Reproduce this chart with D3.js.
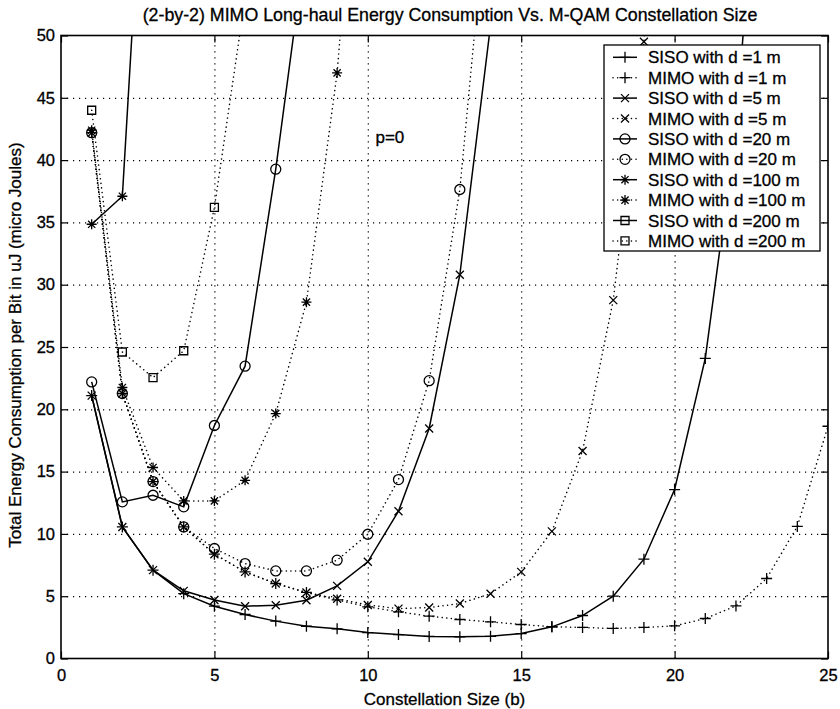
<!DOCTYPE html>
<html>
<head>
<meta charset="utf-8">
<script src="https://cdn.jsdelivr.net/npm/d3@7"></script>
<style>
  html, body { margin: 0; padding: 0; background: #fff; }
  svg text { font-family: "Liberation Sans", Arial, Helvetica, sans-serif; fill: #000; stroke: #000; stroke-width: 0.3px; }
</style>
</head>
<body>
<svg id="chart" width="840" height="709"></svg>
<script>
// ---- text ----
const titleText = "(2-by-2) MIMO Long-haul Energy Consumption Vs. M-QAM Constellation Size";
const xLabelText = "Constellation Size (b)";
const yLabelText = "Total Energy Consumption per Bit in uJ (micro Joules)";
const noteText = "p=0";
const notePos = [10.25, 41.4];          // [b, energy] where the note sits

// ---- axes ----
const xDomain = [0, 25];
const yDomain = [0, 50];
const xTicks = [0, 5, 10, 15, 20, 25];
const yTicks = [0, 5, 10, 15, 20, 25, 30, 35, 40, 45, 50];

// ---- energy per bit (uJ), value i belongs to constellation size b = i + 1 ----
const sisoD1   = [21.1, 10.56, 7.09, 5.2, 4.2, 3.53, 3.0, 2.59, 2.38, 2.08, 1.92, 1.77, 1.74, 1.78, 2.0, 2.54, 3.45, 5.0, 7.97, 13.56, 24.08, 42.5, 75];
const mimoD1   = [42.2, 21.27, 14.2, 10.56, 8.37, 6.95, 6.02, 5.3, 4.7, 4.15, 3.75, 3.4, 3.13, 2.94, 2.73, 2.55, 2.49, 2.41, 2.49, 2.62, 3.21, 4.22, 6.42, 10.6, 18.64];
const sisoD5   = [21.1, 10.56, 7.09, 5.43, 4.7, 4.2, 4.28, 4.68, 5.83, 7.76, 11.82, 18.46, 30.8, 50.8];
const mimoD5   = [42.2, 21.27, 14.2, 10.56, 8.37, 6.95, 6.02, 5.3, 4.8, 4.3, 4.0, 4.09, 4.41, 5.2, 6.95, 10.2, 16.66, 28.76, 49.5, 85];
const sisoD20  = [22.2, 12.57, 13.1, 12.17, 18.7, 23.46, 39.27, 57.8];
const mimoD20  = [42.2, 21.27, 14.2, 10.56, 8.83, 7.62, 7.03, 7.03, 7.89, 9.97, 14.36, 22.3, 37.64, 63.8];
const sisoD100 = [34.85, 37.1, 78.7];
const mimoD100 = [42.4, 21.75, 15.33, 12.65, 12.65, 14.3, 19.66, 28.6, 47.0, 77];
const sisoD200 = [95, 110, 160];
const mimoD200 = [44.0, 24.6, 22.55, 24.7, 36.2, 53];

const seriesNames = [
  "SISO with d =1 m", "MIMO with d =1 m",
  "SISO with d =5 m", "MIMO with d =5 m",
  "SISO with d =20 m", "MIMO with d =20 m",
  "SISO with d =100 m", "MIMO with d =100 m",
  "SISO with d =200 m", "MIMO with d =200 m"
];
const seriesValues = [sisoD1, mimoD1, sisoD5, mimoD5, sisoD20, mimoD20, sisoD100, mimoD100, sisoD200, mimoD200];

// line style and marker of each series (same order as the names)
const seriesStyle = [
  { dotted: false, marker: "plus" },   { dotted: true, marker: "plus" },
  { dotted: false, marker: "cross" },  { dotted: true, marker: "cross" },
  { dotted: false, marker: "circle" }, { dotted: true, marker: "circle" },
  { dotted: false, marker: "star" },   { dotted: true, marker: "star" },
  { dotted: false, marker: "square" }, { dotted: true, marker: "square" }
];

// ---- layout ----
const plot = { left: 61, right: 828, top: 35.5, bottom: 658.5 };

const svg = d3.select("#chart");
const x = d3.scaleLinear().domain(xDomain).range([plot.left, plot.right]);
const y = d3.scaleLinear().domain(yDomain).range([plot.bottom, plot.top]);

svg.append("defs").append("clipPath").attr("id", "plot-clip")
  .append("rect")
  .attr("x", plot.left).attr("y", plot.top)
  .attr("width", plot.right - plot.left).attr("height", plot.bottom - plot.top);

// ---- dotted grid at the inner ticks ----
const gridStyle = g => g.call(s => s.select(".domain").remove())
  .selectAll(".tick line")
  .attr("stroke", "#000").attr("stroke-width", 1.2)
  .attr("stroke-dasharray", "1.2,4.8");

svg.append("g")
  .attr("transform", `translate(0,${plot.bottom})`)
  .call(d3.axisBottom(x).tickValues(xTicks.slice(1, -1))
        .tickSize(-(plot.bottom - plot.top)).tickFormat(""))
  .call(gridStyle);

svg.append("g")
  .attr("transform", `translate(${plot.left},0)`)
  .call(d3.axisLeft(y).tickValues(yTicks.slice(1, -1))
        .tickSize(-(plot.right - plot.left)).tickFormat(""))
  .call(gridStyle);

// ---- markers ----
function markerPath(type) {
  switch (type) {
    case "plus":   return "M-5.5,0H5.5M0,-5.5V5.5";
    case "cross":  return "M-4,-4L4,4M-4,4L4,-4";
    case "star":   return "M-5,0H5M0,-5V5M-3.6,-3.6L3.6,3.6M-3.6,3.6L3.6,-3.6";
    case "square": return "M-4,-4H4V4H-4Z";
    case "circle": {
      const r = 5;
      return `M${r},0A${r},${r} 0 1,1 ${-r},0A${r},${r} 0 1,1 ${r},0Z`;
    }
  }
  return "";
}

const lineGen = d3.line().x((d, i) => x(i + 1)).y(d => y(d));

const dataLayer = svg.append("g").attr("clip-path", "url(#plot-clip)");

seriesValues.forEach((vals, k) => {
  const st = seriesStyle[k];
  const g = dataLayer.append("g").attr("class", "series");
  g.append("path")
    .datum(vals)
    .attr("d", lineGen)
    .attr("fill", "none")
    .attr("stroke", "#000")
    .attr("stroke-width", 1.5)
    .attr("stroke-linecap", st.dotted ? "round" : "butt")
    .attr("stroke-dasharray", st.dotted ? "0.1,4.5" : null);
  g.selectAll("path.mk")
    .data(vals.map((v, i) => [i + 1, v]).filter(d => d[1] <= yDomain[1]))
    .join("path")
    .attr("class", "mk")
    .attr("transform", d => `translate(${x(d[0])},${y(d[1])})`)
    .attr("d", markerPath(st.marker))
    .attr("fill", "none")
    .attr("stroke", "#000")
    .attr("stroke-width", 1.3);
});

// ---- axes box with inward ticks on all four sides ----
const tickLen = 7;
const noDomain = g => g.select(".domain").remove();

const bottomAxis = svg.append("g")
  .attr("transform", `translate(0,${plot.bottom})`)
  .call(d3.axisBottom(x).tickValues(xTicks).tickSize(-tickLen).tickPadding(11).tickFormat(d3.format("d")))
  .call(noDomain);
bottomAxis.selectAll("text").attr("font-size", 16.5).attr("font-family", null);

const leftAxis = svg.append("g")
  .attr("transform", `translate(${plot.left},0)`)
  .call(d3.axisLeft(y).tickValues(yTicks).tickSize(-tickLen).tickPadding(6).tickFormat(d3.format("d")))
  .call(noDomain);
leftAxis.selectAll("text").attr("font-size", 16.5).attr("font-family", null);

svg.append("g")
  .attr("transform", `translate(0,${plot.top})`)
  .call(d3.axisTop(x).tickValues(xTicks).tickSize(-tickLen).tickFormat(""))
  .call(noDomain);

svg.append("g")
  .attr("transform", `translate(${plot.right},0)`)
  .call(d3.axisRight(y).tickValues(yTicks).tickSize(-tickLen).tickFormat(""))
  .call(noDomain);

svg.selectAll(".tick line").filter(function () { return !this.getAttribute("stroke-dasharray"); })
  .attr("stroke", "#000").attr("stroke-width", 1.2);

svg.append("rect")
  .attr("x", plot.left).attr("y", plot.top)
  .attr("width", plot.right - plot.left).attr("height", plot.bottom - plot.top)
  .attr("fill", "none").attr("stroke", "#000").attr("stroke-width", 1.6);

// ---- annotation ----
svg.append("text")
  .attr("x", x(notePos[0])).attr("y", y(notePos[1]))
  .attr("font-size", 17)
  .text(noteText);

// ---- titles ----
svg.append("text")
  .attr("x", 450).attr("y", 21)
  .attr("text-anchor", "middle")
  .attr("font-size", 17.8)
  .text(titleText);

svg.append("text")
  .attr("x", (plot.left + plot.right) / 2).attr("y", 705)
  .attr("text-anchor", "middle")
  .attr("font-size", 17)
  .text(xLabelText);

svg.append("text")
  .attr("transform", `translate(21,345) rotate(-90)`)
  .attr("text-anchor", "middle")
  .attr("font-size", 17)
  .text(yLabelText);

// ---- legend ----
const leg = { left: 604, right: 820, top: 45, bottom: 251, firstRow: 57.3, rowGap: 20.4 };
const legend = svg.append("g").attr("class", "legend");
legend.append("rect")
  .attr("x", leg.left).attr("y", leg.top)
  .attr("width", leg.right - leg.left).attr("height", leg.bottom - leg.top)
  .attr("fill", "#fff").attr("stroke", "#000").attr("stroke-width", 1.3);

seriesNames.forEach((name, k) => {
  const st = seriesStyle[k];
  const cy = leg.firstRow + k * leg.rowGap;
  const row = legend.append("g").attr("transform", `translate(0,${cy})`);
  row.append("line")
    .attr("x1", leg.left + 9).attr("x2", leg.left + 33)
    .attr("stroke", "#000").attr("stroke-width", 1.5)
    .attr("stroke-linecap", st.dotted ? "round" : "butt")
    .attr("stroke-dasharray", st.dotted ? "0.1,4.5" : null);
  row.append("path")
    .attr("transform", `translate(${leg.left + 21},0)`)
    .attr("d", markerPath(st.marker))
    .attr("fill", "none").attr("stroke", "#000").attr("stroke-width", 1.3);
  row.append("text")
    .attr("x", leg.left + 44)
    .attr("dy", "0.36em")
    .attr("font-size", 17)
    .text(name);
});
</script>
</body>
</html>
